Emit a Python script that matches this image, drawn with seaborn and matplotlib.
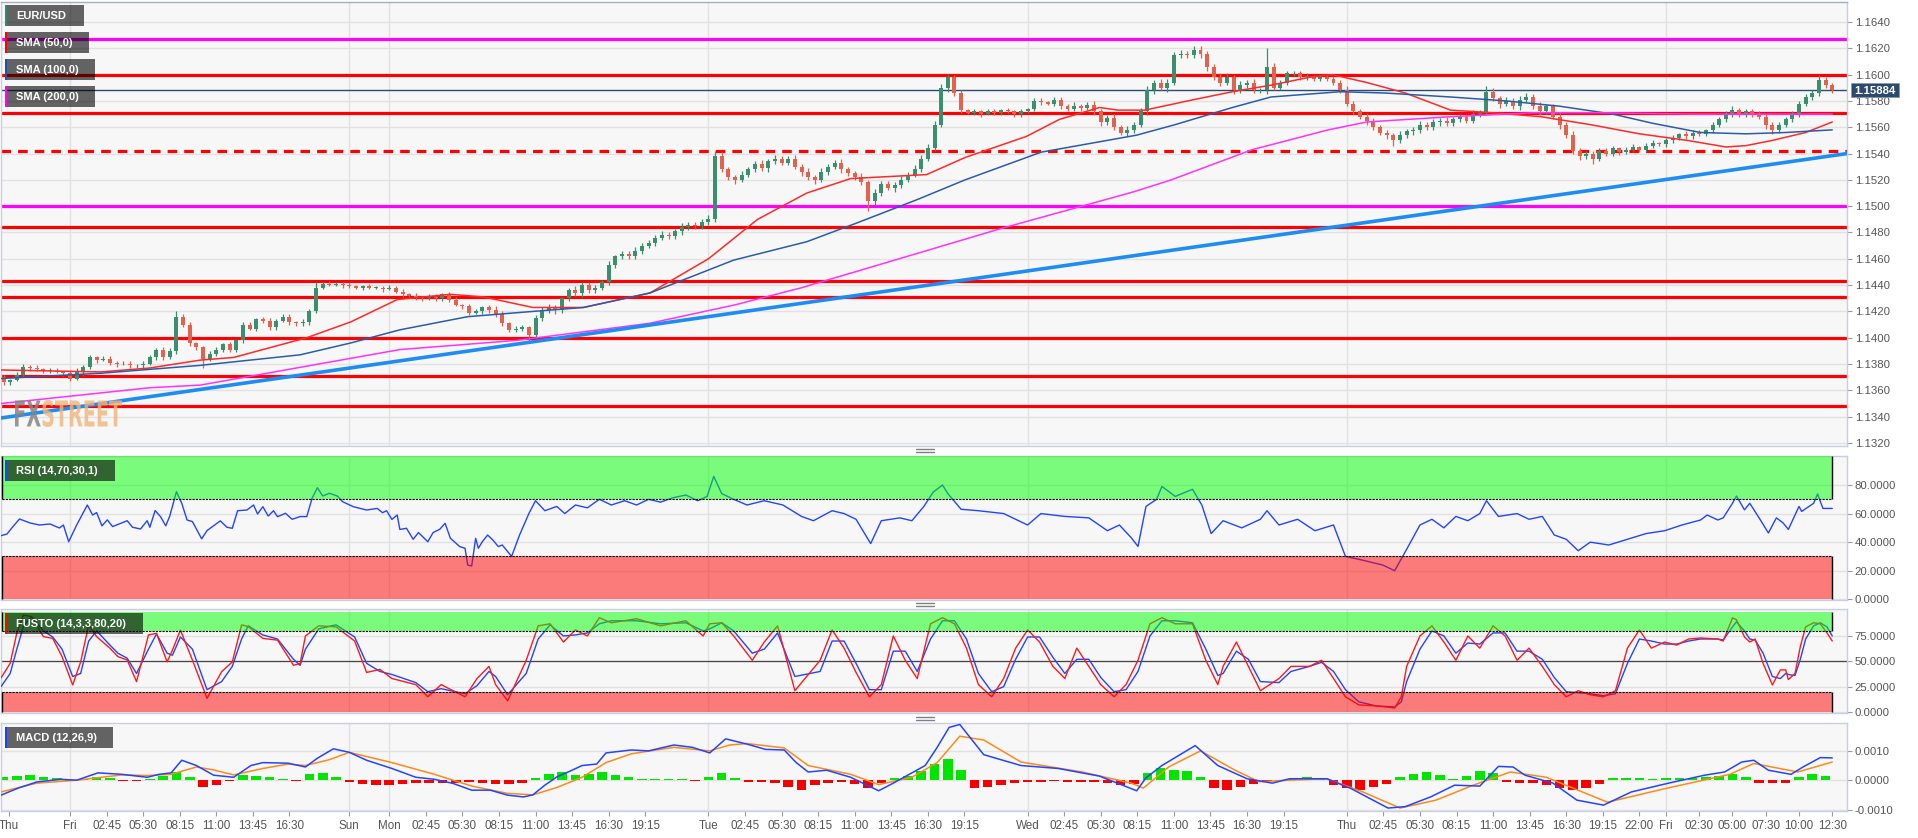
import numpy as np
import pandas as pd
import matplotlib
matplotlib.use('Agg')
import matplotlib.pyplot as plt
import seaborn as sns
from matplotlib.patches import Rectangle, PathPatch
from matplotlib.lines import Line2D
from matplotlib.ticker import FormatStrFormatter
from matplotlib.textpath import TextPath
from matplotlib.transforms import Affine2D
from matplotlib.font_manager import FontProperties

sns.set_theme(style='white')
plt.rcParams['font.family'] = ['Liberation Sans', 'DejaVu Sans']

W, H = 1918, 838

# ---- price candles, 30 min bars, pips above 1.1300 ----
first_open = 70
close_pips = [66,68,72,78,77,76,75,75,74,73, 69,74,78,85,83,84,81,80,80,79,
              79,80,85,91,85,90,116,110,96,93, 84,88,91,95,91,98,110,107,114,113,
              108,113,116,112,111,112,120,138,141,140, 141,140,139,138,139,138,138,137,138,135,
              133,132,131,130,131,130,133,129,125,124, 119,120,123,121,118,111,106,107,108,102,
              115,121,123,121,130,136,134,140,136,138, 142,155,162,164,162,166,170,172,176,178,
              177,181,184,186,185,188,190,238,228,222, 220,224,228,232,229,234,236,233,236,230,
              226,222,220,226,230,233,228,225,222,218, 204,210,217,214,216,220,224,228,236,244,
              262,290,298,286,273,271,272,270,272,271, 273,272,270,272,274,280,279,278,281,276,
              274,276,275,277,272,264,267,260,256,258, 262,272,288,294,290,294,315,316,315,319,
              316,306,298,294,298,288,292,294,288,288, 306,290,294,301,301,298,299,297,298,297,
              294,288,278,272,268,265,260,256,254,250, 254,257,258,262,260,264,265,263,266,268,
              265,270,271,287,282,278,280,276,281,283, 276,272,276,268,262,254,242,238,240,236,
              242,240,244,241,243,245,243,246,248,247, 250,252,255,253,256,255,258,262,266,270,
              273,270,272,270,268,262,258,262,266,270, 278,283,286,296,292,288]
wick_up = [2,1,2,2,1,2,1,2,2,1, 2,3,1,2,1,2,2,1,2,2,
           1,2,2,1,2,2,4,2,2,1, 1,2,2,1,2,1,2,2,1,2,
           2,1,2,2,1,2,2,4,1,2, 1,1,2,1,1,2,1,1,2,1,
           2,1,2,1,2,2,1,2,2,1, 2,2,1,2,3,2,1,2,2,1,
           2,2,3,2,1,2,3,2,2,2, 2,3,1,2,2,3,2,2,2,3,
           2,2,3,2,2,2,3,4,3,2, 2,3,2,2,3,2,3,2,2,3,
           2,3,2,3,2,2,3,2,2,3, 2,3,2,2,2,3,2,3,3,3,
           3,3,2,2,2,1,2,1,2,2, 1,2,1,2,1,2,2,1,2,2,
           2,3,2,2,3,2,2,3,2,3, 2,3,3,2,3,3,2,3,2,3,
           3,2,2,3,3,2,3,2,3,2, 14,3,2,2,2,2,2,1,2,2,
           2,2,3,2,2,3,2,2,2,2, 3,2,2,3,2,2,2,3,2,2,
           2,3,2,4,3,2,3,2,3,3, 2,3,2,2,3,2,3,2,2,2,
           2,2,2,1,2,2,1,2,2,1, 2,2,1,2,2,2,1,2,2,2,
           3,2,2,2,2,2,2,2,2,2, 2,2,2,4,2,2]
wick_dn = [2,2,1,2,2,1,2,2,1,2, 2,1,3,2,2,1,2,2,1,2,
           2,2,1,2,2,1,2,2,2,2, 7,2,2,2,2,2,2,1,2,2,
           2,2,1,2,2,2,2,1,1,1, 1,2,1,1,2,1,1,2,1,1,
           2,1,2,2,1,2,2,2,1,2, 2,1,2,2,2,2,2,2,2,5,
           2,2,2,3,2,2,2,3,2,2, 2,2,2,2,2,2,2,2,2,2,
           2,2,3,2,2,2,2,2,2,2, 3,2,2,2,2,3,2,2,2,2,
           3,2,3,2,2,2,3,2,2,2, 8,3,2,2,3,2,2,2,2,2,
           2,2,3,2,2,1,2,2,1,2, 2,1,2,2,1,2,2,1,2,2,
           2,2,3,2,3,3,2,2,2,3, 2,2,3,3,2,3,2,2,2,2,
           3,3,2,3,2,3,2,2,2,2, 3,2,2,2,2,2,2,2,2,2,
           2,2,2,3,2,3,2,2,3,4, 2,2,3,2,2,2,3,2,2,2,
           2,2,2,2,2,3,2,2,3,2, 2,3,2,2,3,2,2,3,2,4,
           2,2,2,2,1,2,2,2,2,1, 2,2,2,2,2,2,2,2,2,2,
           2,2,2,2,2,3,3,2,2,2, 2,2,2,2,2,2]

# ---- moving averages (hours since Thu 19:00, pips) ----
sma50_t = [-0.19,7.3,11.0,14.8,17.3,22.8,26.1,29.6,33.6,36.1, 39.8,43.6,48.6,53.0,56.7,60.4,63.7,69.4,72.3,76.9,
           79.4,82.4,83.8,85.8,89.5,92.4,95.3,98.2,99.9,102.5, 105.4,108.8,112.0,115.6,119.3,123.0,126.6,129.5,131.0,133.0,
           135.5,137.5]
sma50_p = [75.5,74,77,83,85,100,112,129,133,131, 123,123,134,160,190,210,221,224,237,253,
           266,275,273,273,281,287,292,298,300,294, 286,273,271,268,262,255,250,245,246,250,
           256,264]
sma100_t = [-0.19,7.3,14.8,22.3,26.1,29.8,34.9,39.8,43.6,48.6, 54.9,60.4,64.1,68.7,72.3,78.0,85.2,88.1,92.4,95.3,
            100.5,103.9,108.8,113.0,117.0,121.0,124.0,127.6,131.0,134.0, 137.5]
sma100_p = [69,73,79,87,96,106,116,120,123,134, 159,173,187,205,220,241,254,262,275,283,
            287,286,283,280,276,270,263,256,255,256, 258]
sma200_t = [-0.19,11.0,14.8,29.8,38.6,48.6,55,60,65,70, 75,80,85,87.8,93.9,99.6,102.5,108.8,115,120, 127,137.5]
sma200_p = [50,62,64,91,98,111,125,138,153,168, 183,197,211,220,243,258,264,268,271,271, 270,270]

red_levels = [1.1600, 1.1571, 1.1484, 1.1443, 1.1431, 1.1400, 1.1371, 1.1348]
magenta_levels = [1.1627, 1.1500]
dashed_level = 1.1542
last_price = 1.15884
trend_t = [-0.19, 138.61]
trend_p = [1.1339, 1.1540]

# ---- RSI ----
rsi_t = [-0.19,0.26,0.7,1.2,2.0,2.7,3.5,4.2,4.5,4.9, 5.5,6.3,6.7,7.0,7.4,7.8,8.2,9.3,9.7,10.3,
         10.8,11.0,11.4,11.8,12.2,12.5,13.0,13.4,13.8,14.2, 14.9,15.3,16.3,16.8,17.2,17.6,18.3,18.8,19.1,19.5,
         19.9,20.3,20.6,21.2,21.7,22.3,22.8,23.2,23.6,24.0, 24.5,25.1,25.5,26.3,27.3,28.1,28.5,28.8,29.2,29.6,
         29.8,30.3,30.8,31.2,31.9,32.3,32.8,33.2,33.6,34.3, 34.7,34.9,35.2,35.5,35.7,36.0,36.4,36.8,37.2,
         37.5,38.2,38.8,39.5,40.0,40.7,41.6,42.2,43.0,43.9, 44.8,45.7,46.7,47.6,48.5,49.4,50.3,51.3,52.2,52.9,
         53.4,54.0,54.9,55.9,57.2,58.6,60.0,60.9,62.3,63.2, 64.1,65.2,66.0,67.4,68.3,69.2,69.9,70.6,71.0,72.0,
         73.3,75.2,77.0,78.0,79.8,81.6,83.0,83.9,84.8,85.3, 85.9,86.7,87.1,88.1,89.4,90.1,90.8,91.7,93.1,94.5,
         95.0,95.9,97.3,98.6,100.0,100.9,101.9,102.8,103.7,104.6, 105.5,106.5,107.4,108.3,109.2,110.1,111.0,111.5,112.4,113.8,
         114.7,115.7,116.6,117.5,118.4,119.3,120.7,122.1,123.5,124.9, 126.2,127.6,128.1,128.9,129.3,130.0,130.3,130.9,131.3,132.1,
         132.7,133.3,133.8,134.2,135.0,135.2,136.1,136.4,136.8,137.5]
rsi_v = [44.5,45.7,50.8,56.2,53.4,52,52.7,49.9,52,40.3, 52,66,59,60.7,51.4,55.6,50.9,55,50.4,49.2,
         55,50.4,62.1,57.9,51.4,58.3,75.3,67.2,55.5,54.4, 42.3,48.1,54.9,50.4,49.7,62,62.5,66,59.7,64.8,
         58.3,62,57.8,60.2,56,57.9,57.9,70.7,78.1,72.3, 74.2,72.3,68.3,64.8,62.5,63.6,60.6,62,55.9,59,
         48.9,49.7,42,46.7,40.3,46.7,49,53.2,42.7,36.9, 35.7,24,23.3,42.7,35.7,40.3,45,41.4,36.9,
         38,30,45,60,69,62,65,60,66,64, 70,66,69,66,70,68,71,73,69,72,
         86,74,70,66,69,66,58,55,62,60, 56,39,55,57,55,65,75,80,74,63,
         62,60,52,60,58,57,48,52,43,37, 65,70,79,72,77,66,46,55,50,56,
         62,52,56,48,52,30,28,26,24,20, 35,52,56,50,58,55,60,69,58,60,
         56,58,45,42,34,40,38,42,46,48, 52,55.5,59,55.5,57,67.2,72.3,62.6,67.2,55.5,
         46.4,57,53.5,48.9,65,61.5,67.2,73.7,63.6,63.6]

# ---- FUSTO (%K red, %D blue) ----
fus_t = [-0.19,0.5,1.0,1.5,2.1,3.0,3.7,4.4,5.2,5.8, 6.4,7.0,8.0,8.6,9.3,10.0,10.9,11.5,12.3,12.7,
         13.3,14.2,15.3,16.4,17.2,17.9,18.4,19.5,20.6,21.8, 22.3,22.7,23.7,25.0,26.4,27.3,28.3,29.2,31.0,31.9,
         32.9,34.7,35.6,36.5,37.0,37.9,39.3,40.2,41.1,42.1, 43.0,43.9,44.8,45.7,47.6,49.4,51.3,52.6,53.1,54.0,
         54.9,56.3,57.2,58.2,59.5,61.4,62.3,63.2,64.1,65.1, 66.0,66.9,67.8,68.7,69.7,70.6,71.5,72.4,73.3,74.3,
         75.2,76.1,77.0,77.9,78.9,79.8,80.7,81.6,82.5,83.5, 84.4,85.3,86.2,87.1,88.1,89.4,90.4,91.3,91.7,92.7,
         93.6,94.5,95.9,96.8,98.2,99.1,100.0,100.9,101.9,103.2, 104.6,105.1,105.5,106.5,107.4,108.3,109.2,110.1,111.0,112.0,
         112.9,113.8,114.7,115.7,116.6,117.5,118.4,119.3,120.3,121.2, 122.1,123.0,123.9,124.9,125.8,126.7,127.6,128.9,129.3,130.0,
         130.3,130.9,131.3,131.7,132.3,133.0,133.6,134.0,134.2,134.7, 135.1,135.5,136.1,136.6,137.1,137.5]
fus_k = [33.6,48,78,95.7,94,74.3,72.6,54.6,26.7,49.4, 85.9,74.3,62.9,54.6,51.3,29.9,76,77.6,49.4,61,
         80.8,51.3,13.5,39.8,49.4,85.9,84.3,72.6,70.9,46.1, 47.7,75,85,84,70,39,42,33,27,15,
         27,15,33,45,27,11,51,85,87,69, 81,75,93,88,92,85,90,75,87,88,
         75,51,69,85,21,51,81,63,39,15, 27,75,51,33,87,93,87,63,27,15,
         33,63,81,69,45,33,63,45,27,15, 27,51,87,93,87,87,51,27,45,69,
         45,21,33,45,45,51,33,15,7,6, 4,15,45,75,85,69,51,75,63,85,
         75,51,63,45,27,15,21,17,15,21, 63,81,63,69,66,72,73,72,70,92.8,
         91,74,69,72,48,26.7,41.5,41.5,32,38, 64.5,84,88,87,78,70]
fus_d = [25,38,62,85,94,80,74,62,35,38, 70,80,66,58,53,38,62,77,58,56,
         74,62,22,30,45,72,85,76,72,52, 46,62,82,86,74,48,40,37,29,20,
         23,18,26,40,35,17,38,72,86,75, 76,78,87,90,90,87,88,80,82,88,
         80,58,62,78,35,40,70,70,48,22, 22,60,60,40,72,90,90,72,38,20,
         25,52,74,74,54,38,52,52,34,20, 22,40,75,90,90,88,62,36,38,60,
         52,30,29,40,45,49,40,22,10,6, 5,10,30,62,80,75,58,68,67,78,
         78,60,60,52,34,20,19,18,16,18, 48,72,70,67,67,70,72,72,71,84,
         89,80,72,71,58,35,33,38,37,36, 52,72,85,88,84,75]

# ---- MACD (values x 1e-5) ----
macd_t = [-0.19,1.1,2.5,4.3,5.5,7.1,8.9,10.8,11.7,12.6, 13.4,14.5,15.8,17.3,18.6,19.5,21.4,22.7,23.6,24.8,
          26.0,27.3,29.2,31.0,32.4,33.8,35.2,36.6,37.9,39.1, 39.8,40.7,41.6,42.6,43.5,44.6,45.3,47.2,48.5,50.4,
          51.8,53.1,54.3,55.9,57.3,58.7,59.6,60.5,61.9,63.7, 64.6,65.8,66.9,68.3,69.3,70.2,71.1,71.9,73.7,76.5,
          79.3,82.4,85.2,85.9,87.1,89.6,91.3,93.5,95.4,96.7, 99.5,101.3,104.1,105.4,107.3,109.1,111.0,112.4,113.5,114.4,
          116.5,118.3,120.3,122.4,125.2,127.9,129.4,130.7,131.6,132.7, 134.4,135.3,136.6,137.5]
macd_v = [-51,-27,-6,3,0,25,20,10,20,25, 68,50,17,10,50,60,58,45,75,107,
          95,68,40,10,3,-11,-34,-34,-51,-57, -50,-17,11,31,50,55,93,103,100,120,
          112,93,141,123,105,103,60,28,34,10, -10,-36,-10,25,50,112,180,190,87,50,
          40,14,-36,8,50,118,50,5,-10,5, 5,-28,-95,-90,-57,-17,-20,47,45,17,
          -10,-68,-85,-40,-10,17,28,62,68,34, 20,45,77,76]
sig_t = [-0.19,2.5,5.5,8.9,10.8,12.6,14.5,15.8,17.3,19.5, 21.4,22.7,24.5,26.0,29.2,32.4,35.2,37.9,39.8,41.6,
         43.5,45.3,47.2,50.4,53.1,54.6,55.9,58.7,60.5,63.7, 65.8,68.3,70.2,71.9,73.7,76.5,81.1,84.8,85.7,87.6,
         90.0,92.6,94.4,96.7,99.5,102.2,105.0,107.7,110.5,113.3, 116.0,120.6,124.8,129.8,131.6,134.9,137.5]
sig_v = [-40,-10,0,18,16,20,45,35,18,40, 55,50,70,95,60,20,-20,-45,-50,-25,
         10,60,90,112,100,120,125,110,50,20, -15,10,60,150,137,62,28,-10,-27,45,
         100,34,-5,0,5,-40,-95,-68,-17,28, 10,-75,-30,20,57,28,62]
hist_v = [10,15,17,12,6,-3,5,10,8,-3, -4,5,15,28,10,-23,-15,-3,18,15,
          10,5,-2,20,26,10,-5,-12,-15,-17, -14,-10,-8,-9,-10,-6,-8,-12,-14,-8,
          8,20,28,18,22,28,18,10,5,4, 5,3,-4,12,25,8,-5,-6,-8,-22,
          -32,-18,-8,-6,-12,-28,-10,8,15,30, 55,73,35,-28,-22,-15,-8,-5,-5,-4,
          -5,-6,-5,-8,-17,-12,25,40,35,30, 12,-25,-32,-22,-12,-4,-3,8,10,8,
          -15,-28,-32,-22,-12,12,22,28,18,5, 15,32,25,-6,-10,-8,-15,-28,-34,-25,
          -12,6,8,6,5,6,7,8,10,15, 20,12,-8,-10,-8,12,20,15]

# ---- x axis ----
tick_t = [0.4,5,7.75,10.5,13.25,16,18.75,21.5,26,29,31.75,34.5,37.25,40,42.75,45.5,48.25,
          53,55.75,58.5,61.25,64,66.75,69.5,72.25,77,79.75,82.5,85.25,88,90.75,93.5,96.25,
          101,103.75,106.5,109.25,112,114.75,117.5,120.25,123,125,127.5,130,132.5,135,137.5]
tick_lbl = ['Thu','Fri','02:45','05:30','08:15','11:00','13:45','16:30','Sun','Mon','02:45','05:30',
            '08:15','11:00','13:45','16:30','19:15','Tue','02:45','05:30','08:15','11:00','13:45',
            '16:30','19:15','Wed','02:45','05:30','08:15','11:00','13:45','16:30','19:15','Thu',
            '02:45','05:30','08:15','11:00','13:45','16:30','19:15','22:00','Fri','02:30','05:00',
            '07:30','10:00','12:30']
day_lines = [5, 26, 29, 53, 77, 101, 125]
XLIM = (-0.19, 138.61)

GREEN_C, RED_C = '#3b8f6f', '#e0634f'
BG, GRID, FRAME = '#f7f7f7', '#e2e2e2', '#c9cee2'


def fxp(x):
    return x / W


def fyp(y):
    return 1 - y / H


fig = plt.figure(figsize=(W / 100, H / 100), dpi=100)
fig.patch.set_facecolor('white')


def make_ax(top, bottom):
    ax = fig.add_axes([fxp(1), fyp(bottom), fxp(1846), (bottom - top) / H])
    ax.set_facecolor(BG)
    for s in ax.spines.values():
        s.set_color(FRAME)
        s.set_linewidth(1)
    ax.set_xlim(*XLIM)
    ax.yaxis.tick_right()
    ax.tick_params(axis='y', direction='out', length=3.6, width=0.8, color='#9a9a9a',
                   labelsize=8.2, labelcolor='#555555', pad=2)
    ax.grid(axis='y', color=GRID, lw=1)
    for d in day_lines:
        ax.axvline(d, color=GRID, lw=1, zorder=0)
    ax.set_xticks([])
    return ax


ax_m = make_ax(2, 446)
ax_r = make_ax(456, 600)
ax_f = make_ax(609, 713)
ax_d = make_ax(723, 811)

# ---- main price panel ----
df = pd.DataFrame({'t': np.arange(len(close_pips)) * 0.5,
                   'close': 1.13 + np.array(close_pips) / 1e4})
df['open'] = np.r_[1.13 + first_open / 1e4, df['close'].values[:-1]]
df['high'] = df[['open', 'close']].max(axis=1) + np.array(wick_up) / 1e4
df['low'] = df[['open', 'close']].min(axis=1) - np.array(wick_dn) / 1e4
cols = np.where(df['close'] >= df['open'], GREEN_C, RED_C)

for lv in red_levels:
    ax_m.axhline(lv, color='#ff0000', lw=2.3, zorder=2)
for lv in magenta_levels:
    ax_m.axhline(lv, color='#ff00ff', lw=2.3, zorder=2)
ax_m.axhline(dashed_level, color='#ff0000', lw=2.3, ls=(0, (3, 2.2)), zorder=2)
ax_m.axhline(last_price, color='#2c4a70', lw=1, zorder=2)

ax_m.vlines(df['t'], df['low'], df['high'], colors=cols, lw=0.9, zorder=3)
ax_m.bar(df['t'], np.maximum((df['close'] - df['open']).abs(), 0.00003),
         bottom=df[['open', 'close']].min(axis=1), width=0.3, color=cols, lw=0, zorder=3)

sns.lineplot(x=sma50_t, y=1.13 + np.array(sma50_p) / 1e4, ax=ax_m, color='#ff2a2a', lw=1.1, zorder=4)
sns.lineplot(x=sma100_t, y=1.13 + np.array(sma100_p) / 1e4, ax=ax_m, color='#2a5caa', lw=1.1, zorder=4)
sns.lineplot(x=sma200_t, y=1.13 + np.array(sma200_p) / 1e4, ax=ax_m, color='#ff33ff', lw=1.1, zorder=4)
sns.lineplot(x=trend_t, y=trend_p, ax=ax_m, color='#1e8cf0', lw=2.6, zorder=4)

ax_m.set_ylim(1.13177, 1.16552)
ax_m.set_yticks(np.round(np.arange(1.1320, 1.16401, 0.002), 4))
ax_m.yaxis.set_major_formatter(FormatStrFormatter('%.4f'))
ax_m.set_xlim(*XLIM)
ax_m.spines['top'].set_color('#a6acc4')


def bands(ax, top_lo, top_hi, bot_lo, bot_hi):
    x0, x1 = -0.15, 137.5
    for lo, hi, c, edge in [(top_lo, top_hi, '#00ff00', top_lo), (bot_lo, bot_hi, '#ff0000', bot_hi)]:
        ax.add_patch(Rectangle((x0, lo), x1 - x0, hi - lo, fc=c, alpha=0.5, ec='none', zorder=5))
        ax.plot([x0, x1], [edge, edge], color='black', lw=0.8, ls=(0, (2, 1)), zorder=6)
        ax.vlines([x0, x1], lo, hi, color='black', lw=1, zorder=6)


# ---- RSI ----
sns.lineplot(x=rsi_t, y=rsi_v, ax=ax_r, color='#2444ff', lw=1, zorder=3)
bands(ax_r, 70, 100, 0, 30)
ax_r.set_ylim(-0.5, 100.3)
ax_r.set_yticks([0, 20, 40, 60, 80])
ax_r.yaxis.set_major_formatter(FormatStrFormatter('%.4f'))
ax_r.set_xlim(*XLIM)

# ---- FUSTO ----
ax_f.axhline(50, color='#444444', lw=0.9, zorder=2)
sns.lineplot(x=fus_t, y=fus_d, ax=ax_f, color='#2444ff', lw=1, zorder=3)
sns.lineplot(x=fus_t, y=fus_k, ax=ax_f, color='#ff1a1a', lw=1, zorder=3)
bands(ax_f, 80, 98.7, 0, 20)
ax_f.set_ylim(-1, 101.6)
ax_f.set_yticks([0, 25, 50, 75])
ax_f.yaxis.set_major_formatter(FormatStrFormatter('%.4f'))
ax_f.set_xlim(*XLIM)

# ---- MACD ----
hv = np.array(hist_v) / 1e5
ax_d.bar(np.arange(len(hist_v)), hv, width=0.72,
         color=np.where(hv >= 0, '#00e400', '#f40000'), lw=0, zorder=2)
sns.lineplot(x=sig_t, y=np.array(sig_v) / 1e5, ax=ax_d, color='#ff8a1a', lw=1.1, zorder=3)
sns.lineplot(x=macd_t, y=np.array(macd_v) / 1e5, ax=ax_d, color='#2444ff', lw=1.1, zorder=3)
ax_d.set_ylim(-0.00105, 0.00195)
ax_d.set_yticks([-0.001, 0, 0.001])
ax_d.yaxis.set_major_formatter(FormatStrFormatter('%.4f'))
ax_d.set_xlim(*XLIM)
ax_d.set_xticks(tick_t)
ax_d.set_xticklabels(tick_lbl)
ax_d.tick_params(axis='x', direction='out', length=3.6, width=0.8, color='#9a9a9a',
                 labelsize=8.4, labelcolor='#555555', pad=3, bottom=True)

for a in (ax_m, ax_r, ax_f, ax_d):
    a.set_xlabel('')
    a.set_ylabel('')
    if a.get_legend() is not None:
        a.get_legend().remove()


# ---- overlay labels ----
def label_box(x0, y0, x1, y1, bar_c, txt):
    fig.patches.append(Rectangle((fxp(x0), fyp(y1)), fxp(x1 - x0), (y1 - y0) / H,
                                 transform=fig.transFigure, fc='black', alpha=0.6, ec='none', zorder=10))
    fig.patches.append(Rectangle((fxp(x0), fyp(y1)), fxp(2.2), (y1 - y0) / H,
                                 transform=fig.transFigure, fc=bar_c, ec='none', zorder=11))
    fig.text(fxp(x0 + 11), fyp((y0 + y1) / 2 + 0.5), txt, color='white', fontsize=8,
             fontweight='bold', va='center', ha='left', zorder=12)


label_box(5, 5, 84, 26, '#2e8b6e', 'EUR/USD')
label_box(5, 32, 89, 53, '#ff0000', 'SMA (50,0)')
label_box(5, 59, 95, 80, '#2050b0', 'SMA (100,0)')
label_box(5, 86, 95, 107, '#ff00ff', 'SMA (200,0)')
label_box(5, 460, 115, 481, '#2040ff', 'RSI (14,70,30,1)')
label_box(5, 613, 143, 634, '#ff0000', 'FUSTO (14,3,3,80,20)')
label_box(5, 727, 113, 748, '#2040ff', 'MACD (12,26,9)')

# last price tag
fig.patches.append(Rectangle((fxp(1851), fyp(97)), fxp(48), 14 / H, transform=fig.transFigure,
                             fc='#2c4a6e', ec='#8898b0', lw=0.6, zorder=10))
fig.text(fxp(1875), fyp(90.5), '%.5f' % last_price, color='white', fontsize=8.2,
         fontweight='bold', ha='center', va='center', zorder=12)

# panel resize handles
for yy in (451, 604.5, 718):
    for dy in (-1.5, 1.5):
        fig.add_artist(Line2D([fxp(916), fxp(934)], [fyp(yy + dy)] * 2, color='#808080', lw=1))

# watermark, squeezed to the condensed logo box (x 15..122, y 400..427)
fp = FontProperties(family='DejaVu Sans', weight='bold')
p_all = TextPath((0, 0), 'FXSTREET', size=40, prop=fp)
p_fx = TextPath((0, 0), 'FX', size=40, prop=fp)
p_st = TextPath((0, 0), 'STREET', size=40, prop=fp)
e_all, e_st = p_all.get_extents(), p_st.get_extents()
sx = 107 / (e_all.x1 - e_all.x0)
sy = 27 / (e_all.y1 - e_all.y0)
off = e_all.x1 - e_st.x1
base = Affine2D().scale(sx, sy).translate(15, H - 427)
tr_fx = Affine2D().translate(-e_all.x0, -e_all.y0) + base
tr_st = Affine2D().translate(off - e_all.x0, -e_all.y0) + base
fig.add_artist(PathPatch(p_fx, transform=tr_fx, fc='#858585', ec='none', alpha=0.85, zorder=1))
fig.add_artist(PathPatch(p_st, transform=tr_st, fc='#f0b57a', ec='none', alpha=0.8, zorder=1))

fig.savefig('out.png', dpi=100, facecolor='white')
